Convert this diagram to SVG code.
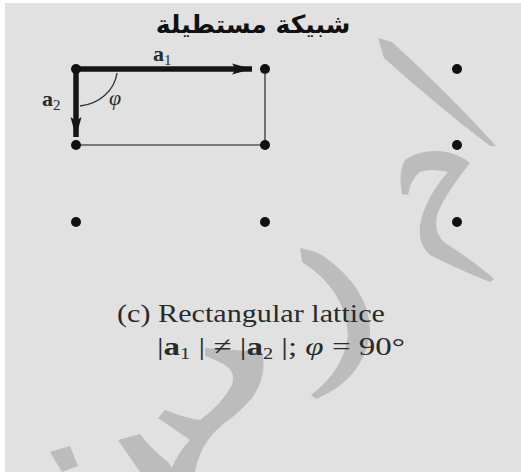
<svg xmlns="http://www.w3.org/2000/svg" width="521" height="472" viewBox="0 0 521 472">
<style>
.pt{fill:#111}
.vec{stroke:#151515;stroke-width:5.5;fill:none}
.edge{stroke:#555;stroke-width:1.6;fill:none}
.wm{fill:#bcbcbc}
.lbl{font-family:"Liberation Serif","DejaVu Serif",serif;fill:#2a2a2a}
</style>
<defs>
<marker id="ah" markerWidth="22" markerHeight="14" refX="20" refY="7" orient="auto" markerUnits="userSpaceOnUse">
<path d="M0,1.5 L20,7 L0,12.5 L4,7 Z" fill="#151515"/>
</marker>
</defs>
<rect x="0" y="0" width="521" height="472" fill="#fff"/>
<rect x="5" y="3" width="516" height="469" fill="#e1e1e1"/>
<g id="watermark">
<path class="wm" d="M378,38 L392,42 Q450,95 496,146 L490,146 Q440,108 384,58 Z"/>
<path class="wm" d="M402,194 Q398,172 405,160 Q418,150 440,151 Q458,153 470,163 Q448,190 438,212 Q432,232 445,243 Q475,262 494,279 L490,282 Q455,268 430,255 Q418,245 420,225 Q425,198 448,172 Q430,168 420,172 Q410,180 408,195 Z"/>
<path class="wm" d="M300,248 Q312,250 322,255 Q372,290 370,335 Q362,380 316,399 L311,395 Q344,370 348,335 Q346,290 302,262 Z"/>
<path class="wm" d="M205,348 L262,352 Q268,375 252,398 Q238,414 222,425 Q205,440 200,455 Q196,465 195,472 L170,472 Q178,452 190,440 L158,418 L165,410 Q185,418 200,420 Q222,404 232,385 Q236,372 225,365 Q212,358 205,356 Z"/>
<path class="wm" d="M118,440 L140,434 Q150,448 168,462 L175,472 L140,472 Z"/>
<path class="wm" d="M50,452 L70,446 L78,466 L62,472 Z"/>
</g>
<g id="title">
<text x="253" y="33" text-anchor="middle" font-family="'DejaVu Sans','Noto Sans',sans-serif" font-weight="bold" font-size="25" fill="#111" direction="rtl">شبيكة مستطيلة</text>
</g>
<g id="connectors">
<line class="edge" x1="265" y1="69" x2="265" y2="145"/>
<line class="edge" x1="76" y1="145" x2="265" y2="145"/>
<line class="vec" x1="76" y1="69" x2="252" y2="69" marker-end="url(#ah)"/>
<line class="vec" x1="76" y1="69" x2="76" y2="137" marker-end="url(#ah)"/>
<path d="M117,73 A42,38 0 0 1 80,106" stroke="#333" stroke-width="1.4" fill="none"/>
</g>
<g id="points">
<circle class="pt" cx="76" cy="69" r="5"/>
<circle class="pt" cx="265" cy="69" r="5"/>
<circle class="pt" cx="457" cy="69" r="5"/>
<circle class="pt" cx="76" cy="145" r="5"/>
<circle class="pt" cx="265" cy="145" r="5"/>
<circle class="pt" cx="457" cy="145" r="5"/>
<circle class="pt" cx="76" cy="222" r="5"/>
<circle class="pt" cx="265" cy="222" r="5"/>
<circle class="pt" cx="457" cy="222" r="5"/>
</g>
<g id="labels">
<text class="lbl" x="153" y="61" font-size="22" font-weight="bold">a<tspan font-size="15" dy="4" font-weight="normal">1</tspan></text>
<text class="lbl" x="42" y="106" font-size="22" font-weight="bold">a<tspan font-size="15" dy="4" font-weight="normal">2</tspan></text>
<text class="lbl" x="109" y="105" font-size="22" font-style="italic">φ</text>
</g>
<g id="caption">
<text class="lbl" x="117" y="322" font-size="26" textLength="268" lengthAdjust="spacingAndGlyphs">(c) Rectangular lattice</text>
<text class="lbl" x="157" y="355" font-size="26" textLength="248" lengthAdjust="spacingAndGlyphs">|<tspan font-weight="bold">a</tspan><tspan font-size="16" dy="4">1</tspan><tspan dy="-4"> | ≠ |</tspan><tspan font-weight="bold">a</tspan><tspan font-size="16" dy="4">2</tspan><tspan dy="-4"> |; </tspan><tspan font-style="italic">φ</tspan> = 90°</text>
</g>
</svg>
